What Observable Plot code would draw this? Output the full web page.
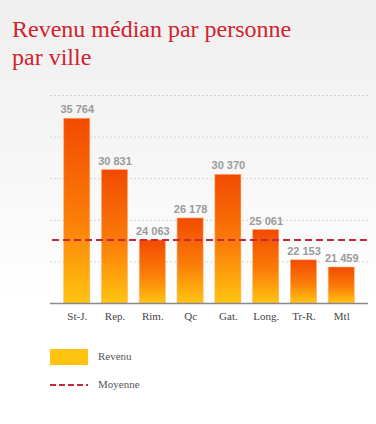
<!DOCTYPE html>
<html>
<head>
<meta charset="utf-8">
<script src="https://cdn.jsdelivr.net/npm/d3@7"></script>
<script src="https://cdn.jsdelivr.net/npm/@observablehq/plot@0.6"></script>
<style>
  html, body { margin: 0; padding: 0; }
  body {
    width: 376px; height: 424px; overflow: hidden;
    background: linear-gradient(to bottom, #efefef 0px, #f4f4f4 120px, #ffffff 300px);
    font-family: "Liberation Serif", serif;
  }
  #title {
    position: absolute; left: 12px; top: 15px;
    font-family: "Liberation Serif", serif; font-size: 24px; line-height: 28px;
    color: #d0232f;
  }
  #chart { position: absolute; left: 0; top: 80px; }
  .leg { position: absolute; left: 50px; font-size: 11px; color: #555; }
</style>
</head>
<body>
<div id="title">Revenu médian par personne<br>par ville</div>
<div id="chart"></div>
<div class="leg" style="top:349px;">
  <div style="position:absolute; left:0; top:0; width:38px; height:16px; background:#ffc20e;"></div>
  <div style="position:absolute; left:48px; top:1px; white-space:nowrap;">Revenu</div>
</div>
<div class="leg" style="top:378px;">
  <svg style="position:absolute; left:0; top:0;" width="40" height="14"><line x1="0" x2="38" y1="7" y2="7" stroke="#c8283c" stroke-width="2" stroke-dasharray="6,3"/></svg>
  <div style="position:absolute; left:48px; top:0px; white-space:nowrap;">Moyenne</div>
</div>
<script>
const villes = ["St-J.", "Rep.", "Rim.", "Qc", "Gat.", "Long.", "Tr-R.", "Mtl"];
const revenus = [35764, 30831, 24063, 26178, 30370, 25061, 22153, 21459];
const moyenne = 24100;
const grilles = [22000, 26000, 30000, 34000, 38000];

const data = villes.map((v, i) => ({ville: v, revenu: revenus[i]}));
const fmt = d3.formatLocale({decimal: ",", thousands: "\u00a0", grouping: [3], currency: ["", ""]}).format(",d");

const plot = Plot.plot({
  width: 376,
  height: 250,
  marginTop: 15,
  marginBottom: 27,
  marginLeft: 52,
  marginRight: 10,
  style: {background: "transparent", overflow: "visible"},
  x: {domain: villes, padding: 0.31, round: false, label: null, tickSize: 0, tickPadding: 9},
  y: {domain: [18000, 38000], axis: null},
  marks: [
    Plot.ruleY(grilles, {stroke: "#d4d4d4", strokeDasharray: "2,2", strokeWidth: 1, insetLeft: -2, insetRight: -2}),
    Plot.barY(data, {x: "ville", y1: 18000, y2: "revenu", fill: "url(#grad)", stroke: "#ffb070", strokeWidth: 0.8, strokeOpacity: 0.7}),
    Plot.ruleY([18000], {stroke: "#8a8a8a", strokeWidth: 1.5, insetLeft: -2, insetRight: -2}),
    Plot.ruleY([moyenne], {stroke: "#c8283c", strokeWidth: 2, strokeDasharray: "7,4", insetRight: -4}),
    Plot.text(data, {x: "ville", y: "revenu", text: d => fmt(d.revenu), dy: -9, fill: "#9a9a9a", fontWeight: "bold", fontSize: 11, fontFamily: "Liberation Sans"})
  ]
});

document.getElementById("chart").appendChild(plot);
const svg = d3.select(plot);
const defs = svg.insert("defs", ":first-child");
const g = defs.append("linearGradient").attr("id", "grad").attr("x1", 0).attr("x2", 0).attr("y1", 0).attr("y2", 1);
g.append("stop").attr("offset", "0%").attr("stop-color", "#f24a00");
g.append("stop").attr("offset", "55%").attr("stop-color", "#fb7d08");
g.append("stop").attr("offset", "100%").attr("stop-color", "#ffc410");
svg.selectAll("g[aria-label='x-axis tick label']")
  .attr("font-family", "Liberation Serif").attr("font-size", 11).attr("fill", "#444");
</script>
</body>
</html>
